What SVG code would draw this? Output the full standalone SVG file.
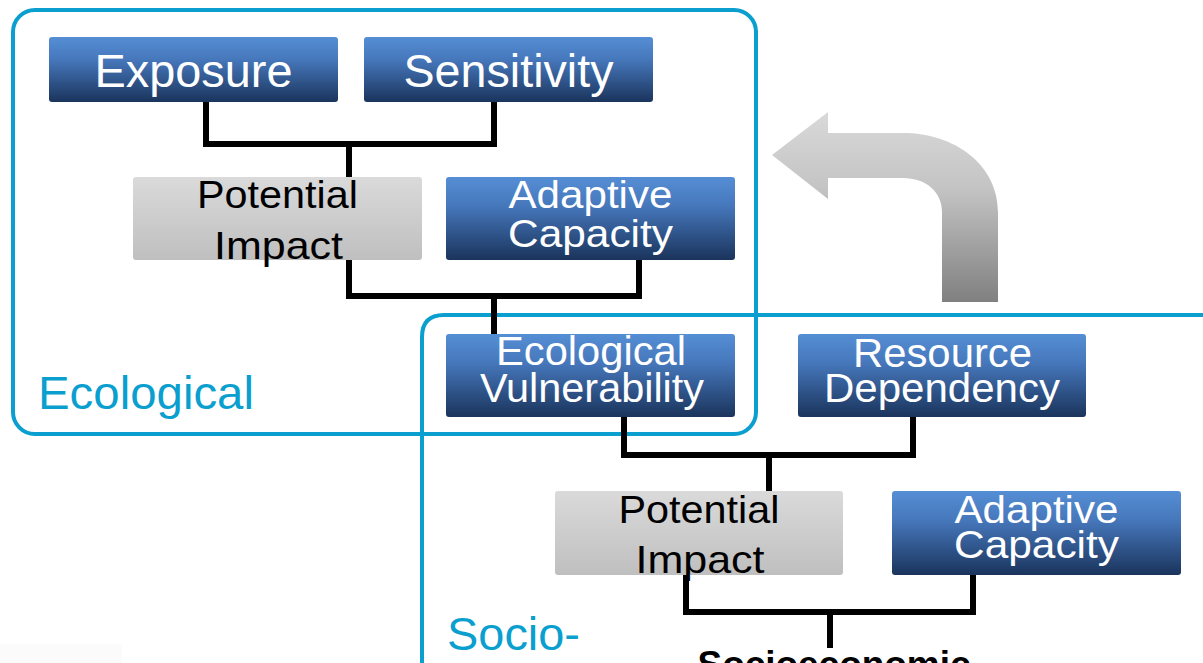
<svg xmlns="http://www.w3.org/2000/svg" width="1203" height="663" viewBox="0 0 1203 663">
<defs>
<linearGradient id="gBlue" x1="0" y1="0" x2="0" y2="1">
<stop offset="0" stop-color="#558ed5"/>
<stop offset="0.35" stop-color="#4677bb"/>
<stop offset="1" stop-color="#1a345c"/>
</linearGradient>
<linearGradient id="gGray" x1="0" y1="0" x2="0" y2="1">
<stop offset="0" stop-color="#dadada"/>
<stop offset="1" stop-color="#bfbfbf"/>
</linearGradient>
<linearGradient id="gArrow" gradientUnits="userSpaceOnUse" x1="0" y1="112" x2="0" y2="302">
<stop offset="0" stop-color="#d9d9d9"/>
<stop offset="0.4" stop-color="#c4c4c4"/>
<stop offset="1" stop-color="#808080"/>
</linearGradient>
<style>
.frame{fill:none;stroke:#0a9fcf;stroke-width:4}
.blue{fill:url(#gBlue)}
.gray{fill:url(#gGray)}
.wt{fill:#ffffff;font-family:"Liberation Sans",Arial,sans-serif;text-anchor:middle}
.bt{fill:#000000;font-family:"Liberation Sans",Arial,sans-serif;text-anchor:middle}
.lbl{fill:#0a9fcf;font-family:"Liberation Sans",Arial,sans-serif;font-size:46px}
.conn{fill:none;stroke:#000000;stroke-width:6;stroke-linejoin:miter;stroke-linecap:butt}
</style>
</defs>
<rect width="1203" height="663" fill="#ffffff"/>
<rect x="0" y="644" width="122" height="19" fill="#fbfbfb"/>

<g id="arrow">
<path d="M772,155 L828,112 L828,133 L903,133 C955,133 998,165 998,212 L998,302 L942,302 L942,212 C942,192 926,178 903,178 L828,178 L828,199 Z" fill="url(#gArrow)"/>
</g>

<g id="ecological-frame">
<rect class="frame" x="13" y="10" width="743" height="424" rx="22"/>
<text class="lbl" x="38" y="409" textLength="216" lengthAdjust="spacingAndGlyphs">Ecological</text>
</g>

<g id="socio-frame">
<path class="frame" d="M1210,315 L444,315 Q422,315 422,337 L422,680"/>
<text class="lbl" x="447" y="650" textLength="133" lengthAdjust="spacingAndGlyphs">Socio-</text>
</g>

<g id="connectors">
<path class="conn" d="M206,102 V144 H494 V102 M349,144 V178"/>
<path class="conn" d="M349,260 V296 H639 V260 M494,296 V334"/>
<path class="conn" d="M624,417 V455 H913 V417 M769,455 V491"/>
<path class="conn" d="M686,575 V612 H973 V575 M830,612 V648"/>
</g>

<g id="exposure">
<rect class="blue" x="49" y="37" width="289" height="65" rx="3"/>
<text class="wt" x="193.5" y="87" font-size="46" textLength="198" lengthAdjust="spacingAndGlyphs">Exposure</text>
</g>
<g id="sensitivity">
<rect class="blue" x="364" y="37" width="289" height="65" rx="3"/>
<text class="wt" x="508.5" y="87" font-size="46" textLength="210" lengthAdjust="spacingAndGlyphs">Sensitivity</text>
</g>
<g id="potential-impact-eco">
<rect class="gray" x="133" y="177" width="289" height="83" rx="3"/>
<text class="bt" x="277.5" y="208" font-size="39" textLength="161" lengthAdjust="spacingAndGlyphs">Potential</text>
<text class="bt" x="278.5" y="259" font-size="39" textLength="129" lengthAdjust="spacingAndGlyphs">Impact</text>
</g>
<g id="adaptive-capacity-eco">
<rect class="blue" x="446" y="177" width="289" height="83" rx="3"/>
<text class="wt" x="590.5" y="208" font-size="39" textLength="164" lengthAdjust="spacingAndGlyphs">Adaptive</text>
<text class="wt" x="590.5" y="247" font-size="39" textLength="165" lengthAdjust="spacingAndGlyphs">Capacity</text>
</g>
<g id="ecological-vulnerability">
<rect class="blue" x="446" y="334" width="289" height="83" rx="3"/>
<text class="wt" x="591" y="365" font-size="40" textLength="190" lengthAdjust="spacingAndGlyphs">Ecological</text>
<text class="wt" x="592" y="402" font-size="40" textLength="224" lengthAdjust="spacingAndGlyphs">Vulnerability</text>
</g>
<g id="resource-dependency">
<rect class="blue" x="798" y="334" width="288" height="83" rx="3"/>
<text class="wt" x="942.5" y="367" font-size="40" textLength="179" lengthAdjust="spacingAndGlyphs">Resource</text>
<text class="wt" x="942" y="402" font-size="40" textLength="236" lengthAdjust="spacingAndGlyphs">Dependency</text>
</g>
<g id="potential-impact-socio">
<rect class="gray" x="555" y="491" width="288" height="84" rx="3"/>
<text class="bt" x="699" y="523" font-size="39" textLength="161" lengthAdjust="spacingAndGlyphs">Potential</text>
<text class="bt" x="700" y="573" font-size="39" textLength="129" lengthAdjust="spacingAndGlyphs">Impact</text>
</g>
<g id="adaptive-capacity-socio">
<rect class="blue" x="892" y="491" width="289" height="84" rx="3"/>
<text class="wt" x="1036.5" y="523" font-size="39" textLength="164" lengthAdjust="spacingAndGlyphs">Adaptive</text>
<text class="wt" x="1036.5" y="558" font-size="39" textLength="165" lengthAdjust="spacingAndGlyphs">Capacity</text>
</g>
<g id="socioeconomic">
<text class="bt" x="834" y="677" font-size="37" font-weight="bold" textLength="273" lengthAdjust="spacingAndGlyphs">Socioeconomic</text>
</g>
</svg>
